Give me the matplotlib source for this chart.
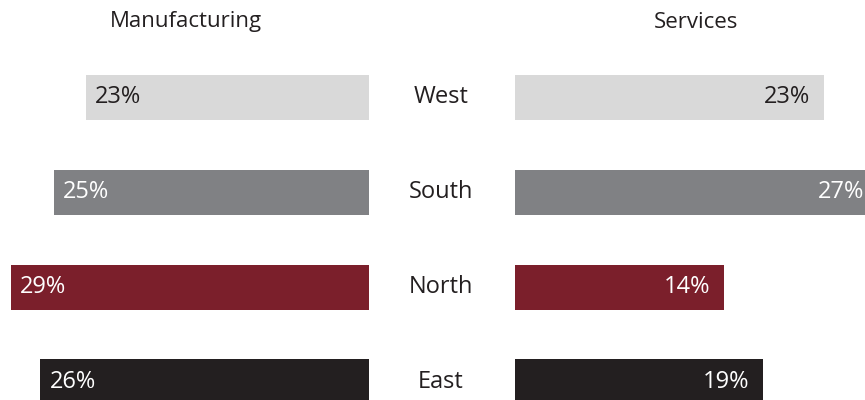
import matplotlib
matplotlib.use("Agg")
import matplotlib.pyplot as plt

plt.rcParams['font.family'] = ['Open Sans', 'DejaVu Sans']

regions = ["West", "South", "North", "East"]
manufacturing = [22.8, 25.4, 28.9, 26.5]
services = [22.9, 26.9, 15.5, 18.4]
manufacturing_labels = ["23%", "25%", "29%", "26%"]
services_labels = ["23%", "27%", "14%", "19%"]
colors = ["#d9d9d9", "#808184", "#7b1f2b", "#231f20"]
label_colors = ["#231f20", "#ffffff", "#ffffff", "#ffffff"]
titles = ["Manufacturing", "Services"]

W, H = 865, 400
fig = plt.figure(figsize=(W / 100, H / 100), dpi=100)

# y mapping: row centers at 97 + 95*i px from top
ytop = -97 / 95
ybot = (H - 97) / 95
bar_h = 45 / 95

# left axes 0..369 px, scale 12.4 px per unit
axL = fig.add_axes([0, 0, 369 / W, 1])
axL.set_xlim(369 / 12.4, 0)
axL.set_ylim(ybot, ytop)
axL.axis('off')
ypos = list(range(len(regions)))
axL.barh(ypos, manufacturing, height=bar_h, color=colors)
for i, (v, lab) in enumerate(zip(manufacturing, manufacturing_labels)):
    axL.annotate(lab, (v, i), xytext=(6.5, 0), textcoords='offset points',
                 ha='left', va='center', fontsize=17, color=label_colors[i],
                 annotation_clip=False)

# right axes 515..865 px, scale 13.5 px per unit
axR = fig.add_axes([515 / W, 0, 350 / W, 1])
axR.set_xlim(0, 350 / 13.5)
axR.set_ylim(ybot, ytop)
axR.axis('off')
axR.barh(ypos, services, height=bar_h, color=colors)
for i, (v, lab) in enumerate(zip(services, services_labels)):
    axR.annotate(lab, (v, i), xytext=(-10, 0), textcoords='offset points',
                 ha='right', va='center', fontsize=17, color=label_colors[i],
                 annotation_clip=False)

# category labels in the middle
for i, r in enumerate(regions):
    fig.text(441 / W, 1 - (97 + 95 * i) / H, r, ha='center', va='center',
             fontsize=17, color="#231f20")

fig.text(186 / W, 1 - 22 / H, titles[0], ha='center', va='center', fontsize=16, color="#231f20")
fig.text(696 / W, 1 - 22 / H, titles[1], ha='center', va='center', fontsize=16, color="#231f20")

fig.savefig("out.png", dpi=100)
